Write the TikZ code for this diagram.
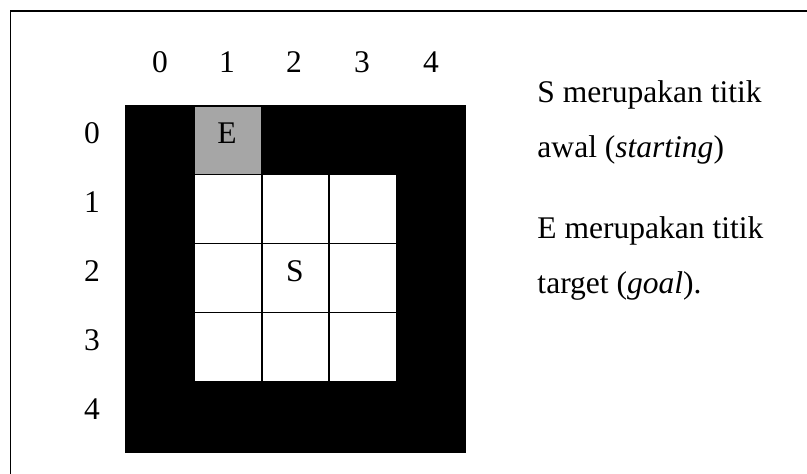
\documentclass[tikz,border=0pt]{standalone}
\usepackage{fontspec}
\setmainfont{Liberation Serif}
\usepackage{xcolor}
\usetikzlibrary{positioning}
\definecolor{MazeWall}{HTML}{000000}
\definecolor{MazeGoal}{HTML}{A6A6A6}
\definecolor{MazeFree}{HTML}{FFFFFF}
\tikzset{
    % Every label in the same serif size
    every node/.style={font=\fontsize{13.1}{15}\selectfont, inner sep=0pt},
    % Grid index on top and on the left
    gridindex/.style={
        anchor=base
    },
    % Letter inside a cell
    celltext/.style={
        anchor=base
    },
    % Explanation on the right
    note/.style={
        anchor=base west
    },
    % Thin black rule
    rule/.style={
        draw=MazeWall,
        line width=0.62pt
    }
}
\begin{document}
\begin{tikzpicture}[x=0.0146cm, y=-0.0146cm]
    \useasboundingbox (0,0) rectangle (807,473);
    \clip (0,0) rectangle (807,473);

    % Frame
    \draw [rule, line width=0.7pt] (10.5,11) rectangle (830,495);

    % Walls, goal cell and free cells
    \fill [MazeWall] (125,105) rectangle (466,453);
    \fill [MazeGoal] (195,106.5) rectangle (260.5,173.5);
    \fill [MazeFree] (195,175) rectangle (396,381);
    \draw [rule] (262,175) -- (262,381);
    \draw [rule] (329,175) -- (329,381);
    \draw [rule] (195,243.5) -- (396,243.5);
    \draw [rule] (195,312.5) -- (396,312.5);

    % Column index
    \node (col0) [gridindex] at (160,72) {0};
    \node (col1) [gridindex] at (227,72) {1};
    \node (col2) [gridindex] at (294,72) {2};
    \node (col3) [gridindex] at (362,72) {3};
    \node (col4) [gridindex] at (431,72) {4};

    % Row index
    \node (row0) [gridindex] at (92,143) {0};
    \node (row1) [gridindex] at (92,212) {1};
    \node (row2) [gridindex] at (92,281) {2};
    \node (row3) [gridindex] at (92,350) {3};
    \node (row4) [gridindex] at (92,419) {4};

    % End and start cells
    \node (goal) [celltext] at (227,143) {E};
    \node (start) [celltext] at (295,281) {S};

    % Legend
    \node (notestart) [note] at (537,102) {S merupakan titik};
    \node (notestart2) [note] at (537,157) {awal (\textit{starting})};
    \node (notegoal) [note] at (537,238) {E merupakan titik};
    \node (notegoal2) [note] at (537,293) {target (\textit{goal}).};
\end{tikzpicture}
\end{document}
